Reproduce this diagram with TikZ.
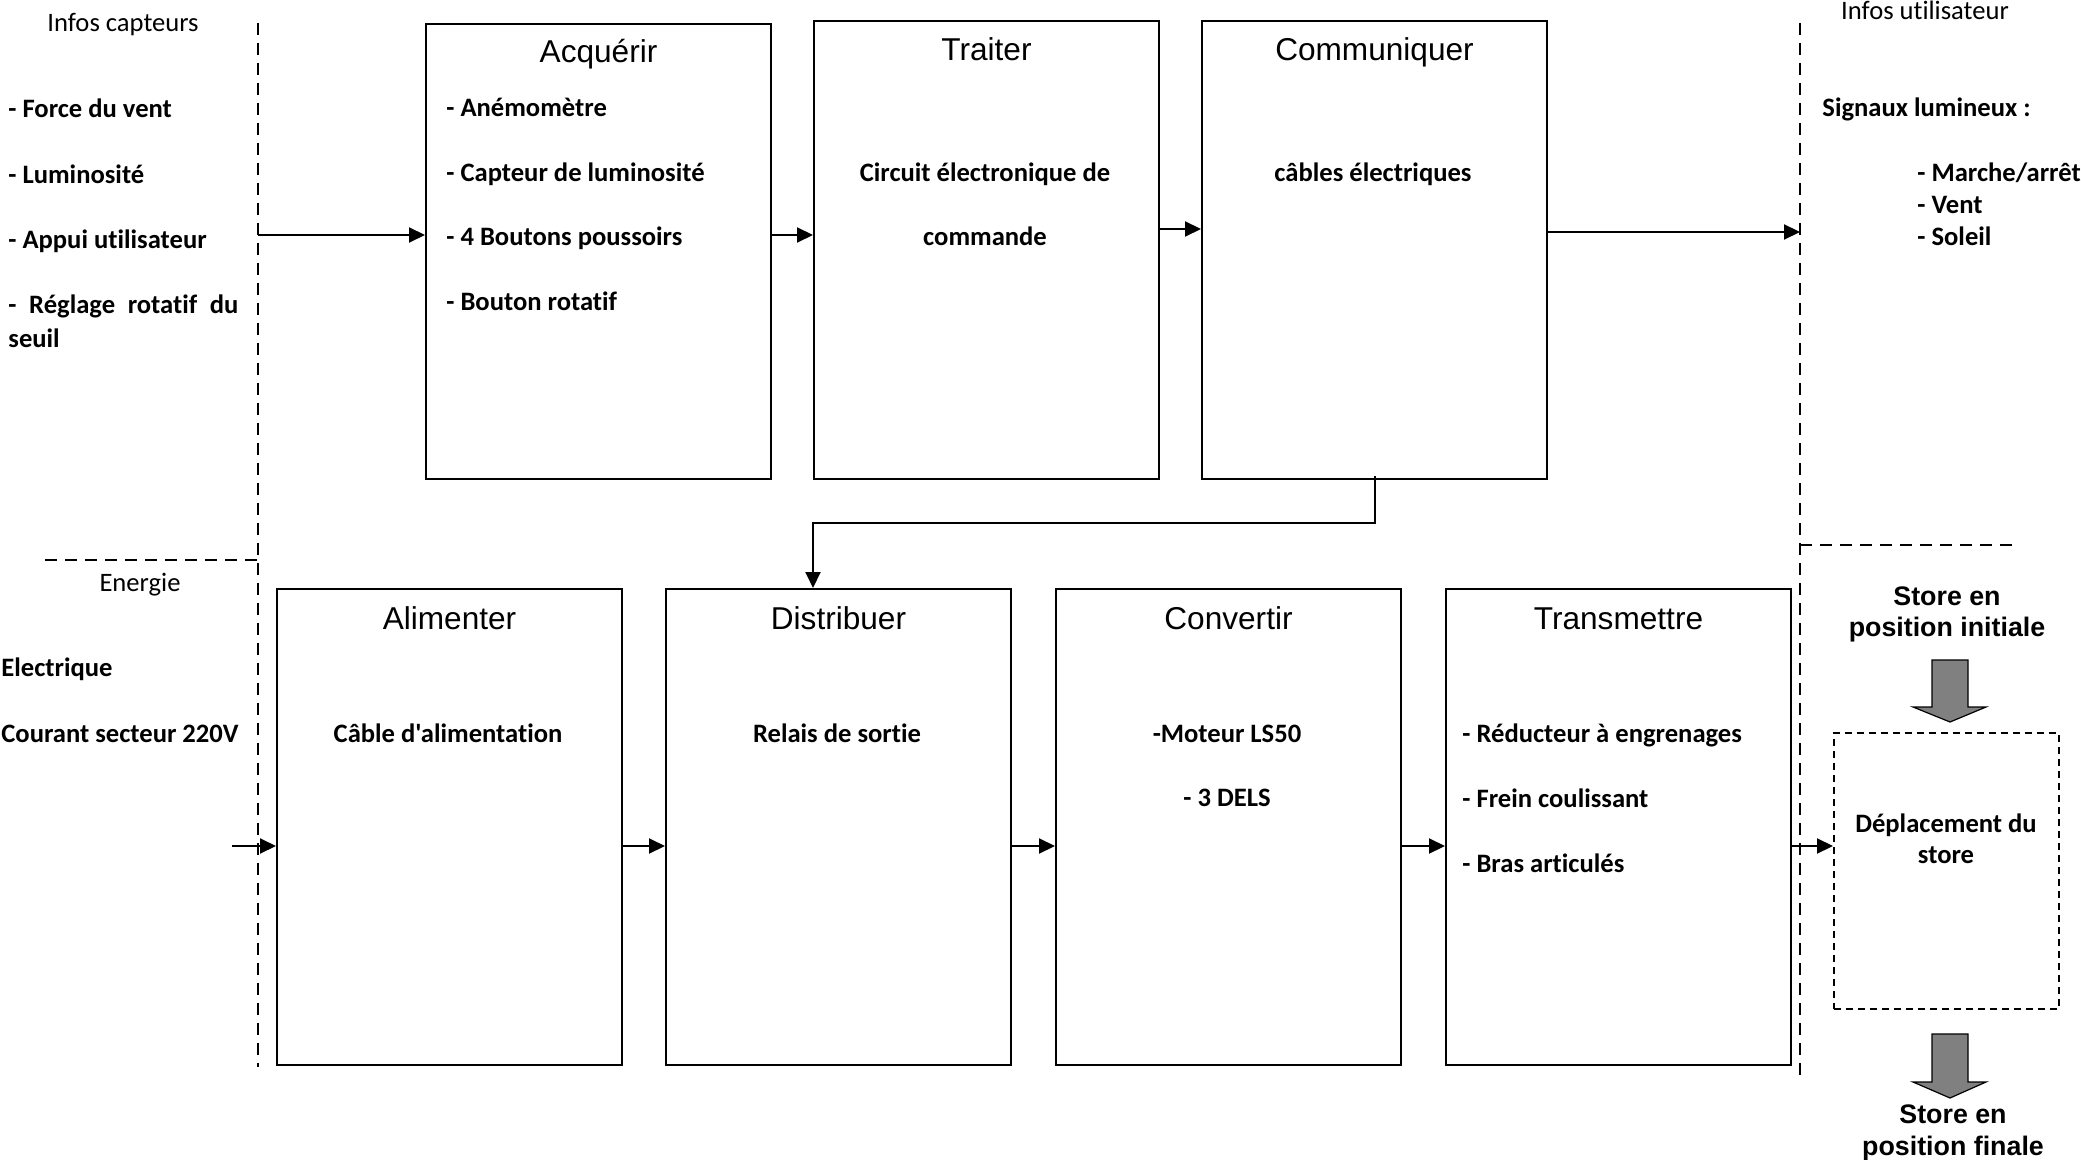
\documentclass[tikz,border=0pt]{standalone}
\usepackage{fontspec}
\setmainfont{Carlito}[Ligatures={TeXOff,CommonOff}]
\newfontfamily\arialfont{Liberation Sans}
\usetikzlibrary{arrows.meta}

\begin{document}
\begin{tikzpicture}[x=0.5pt,y=-0.5pt,
    >={Triangle[length=8pt,width=7.5pt]},
    flow/.style={->,line width=1pt},
    bloc/.style={draw,line width=1pt,anchor=north west,inner sep=0pt,minimum width=172.5pt},
    haut/.style={bloc,minimum height=229pt},
    bas/.style={bloc,minimum height=238pt},
    limite/.style={line width=1.3pt,dash pattern=on 6pt off 4pt},
    titre/.style={font=\arialfont\fontsize{15.8}{19}\selectfont,anchor=base,inner sep=0pt},
    liste/.style={font=\bfseries\fontsize{13.3}{16}\selectfont,anchor=base west,inner sep=0pt},
    listec/.style={liste,anchor=base},
    info/.style={font=\fontsize{13.3}{16}\selectfont,anchor=base,inner sep=0pt},
    etat/.style={font=\arialfont\bfseries\fontsize{13.4}{16}\selectfont,anchor=base,inner sep=0pt},
    fleche/.style={draw=black,line width=0.6pt,fill=gray}]
    \useasboundingbox (0,0) rectangle (2081,1160);

    % frontieres
    \draw[limite] (258,23) -- (258,1067);
    \draw[limite] (45,560) -- (258,560);
    \draw[limite] (1800,23) -- (1800,1079);
    \draw[limite] (1800,545) -- (2015,545);

    % chaine d'information
    \node[haut,minimum height=227.5pt] (acq) at (425,23) {};
    \node[haut]                        (trt) at (813,20) {};
    \node[haut]                        (com) at (1201,20) {};
    \node[titre] at ([yshift=-20pt]acq.north) {Acquérir};
    \node[titre] at ([yshift=-20.5pt]trt.north) {Traiter};
    \node[titre] at ([yshift=-20.5pt]com.north) {Communiquer};

    % chaine d'energie
    \node[bas] (ali) at (276,588)  {};
    \node[bas] (dis) at (665,588)  {};
    \node[bas] (cnv) at (1055,588) {};
    \node[bas] (tra) at (1445,588) {};
    \node[titre] at ([yshift=-20.5pt]ali.north) {Alimenter};
    \node[titre] at ([yshift=-20.5pt]dis.north) {Distribuer};
    \node[titre] at ([yshift=-20.5pt]cnv.north) {Convertir};
    \node[titre] at ([yshift=-20.5pt]tra.north) {Transmettre};
    \node[draw,line width=0.8pt,dash pattern=on 3.5pt off 2.5pt,anchor=north west,
          minimum width=112.5pt,minimum height=138pt] (dep) at (1833,732) {};

    % contenus
    \node[liste] (a1) at (446,117) {- Anémomètre};
    \node[liste] (a2) at (446,182) {- Capteur de luminosité};
    \node[liste] (a3) at (446,246) {- 4 Boutons poussoirs};
    \node[liste] (a4) at (446,311) {- Bouton rotatif};
    \node[listec] (t1) at (985,182)  {Circuit électronique de};
    \node[listec] (t2) at (985,246)  {commande};
    \node[listec] (c1) at (1373,182) {câbles électriques};
    \node[listec] (l1) at (448,742)  {Câble d'alimentation};
    \node[listec] (d1) at (837,742)  {Relais de sortie};
    \node[listec] (v1) at (1227,742) {-Moteur LS50};
    \node[listec] (v2) at (1227,806) {- 3 DELS};
    \node[liste]  (r1) at (1462,742) {- Réducteur à engrenages};
    \node[liste]  (r2) at (1462,807) {- Frein coulissant};
    \node[liste]  (r3) at (1462,872) {- Bras articulés};
    \node[listec] (p1) at (1946,832) {Déplacement du};
    \node[listec] (p2) at (1946,863) {store};

    % entrees / sorties
    \node[info]  (ic) at (123,32)  {Infos capteurs};
    \node[liste] (e1) at (8,118) {- Force du vent};
    \node[liste] (e2) at (8,184) {- Luminosité};
    \node[liste] (e3) at (8,249) {- Appui utilisateur};
    \node[liste] (e4) at (8,314) {\makebox[115pt][s]{- Réglage rotatif du}};
    \node[liste] (e5) at (8,348) {seuil};
    \node[info]  (ie) at (140,591) {Energie};
    \node[liste] (n1) at (1,676) {Electrique};
    \node[liste] (n2) at (1,742) {Courant secteur 220V};
    \node[info]  (iu) at (1925,20) {Infos utilisateur};
    \node[liste] (s0) at (1822,117) {Signaux lumineux :};
    \node[liste] (s1) at (1917,182) {- Marche/arrêt};
    \node[liste] (s2) at (1917,214) {- Vent};
    \node[liste] (s3) at (1917,246) {- Soleil};
    \node[etat] (si1) at (1947,605)  {Store en};
    \node[etat] (si2) at (1947,636)  {position initiale};
    \node[etat] (sf1) at (1953,1123) {Store en};
    \node[etat] (sf2) at (1953,1155) {position finale};

    % fleches grises
    \draw[fleche] (1932,660) -- (1968,660) -- (1968,707) -- (1986,707)
                  -- (1950,722) -- (1913,707) -- (1932,707) -- cycle;
    \draw[fleche] (1932,1034) -- (1968,1034) -- (1968,1082) -- (1986,1082)
                  -- (1950,1098) -- (1913,1082) -- (1932,1082) -- cycle;

    % liaisons
    \coordinate (capt)  at (258,235);
    \coordinate (capt2) at (1000,229);
    \coordinate (util)  at (1800,232);
    \coordinate (sect)  at (232,846);
    \draw[flow] (capt) -- (capt -| acq.west);
    \draw[flow] (capt -| acq.east) -- (capt -| trt.west);
    \draw[flow] (capt2 -| trt.east) -- (capt2 -| com.west);
    \draw[flow] (util -| com.east) -- (util);
    \draw[flow] ([yshift=2pt]com.south) -- ++(0,47) -| (trt.west |- dis.north);
    \draw[flow] (sect) -- (sect -| ali.west);
    \draw[flow] (sect -| ali.east) -- (sect -| dis.west);
    \draw[flow] (sect -| dis.east) -- (sect -| cnv.west);
    \draw[flow] (sect -| cnv.east) -- (sect -| tra.west);
    \draw[flow] (sect -| tra.east) -- (sect -| dep.west);
\end{tikzpicture}
\end{document}
